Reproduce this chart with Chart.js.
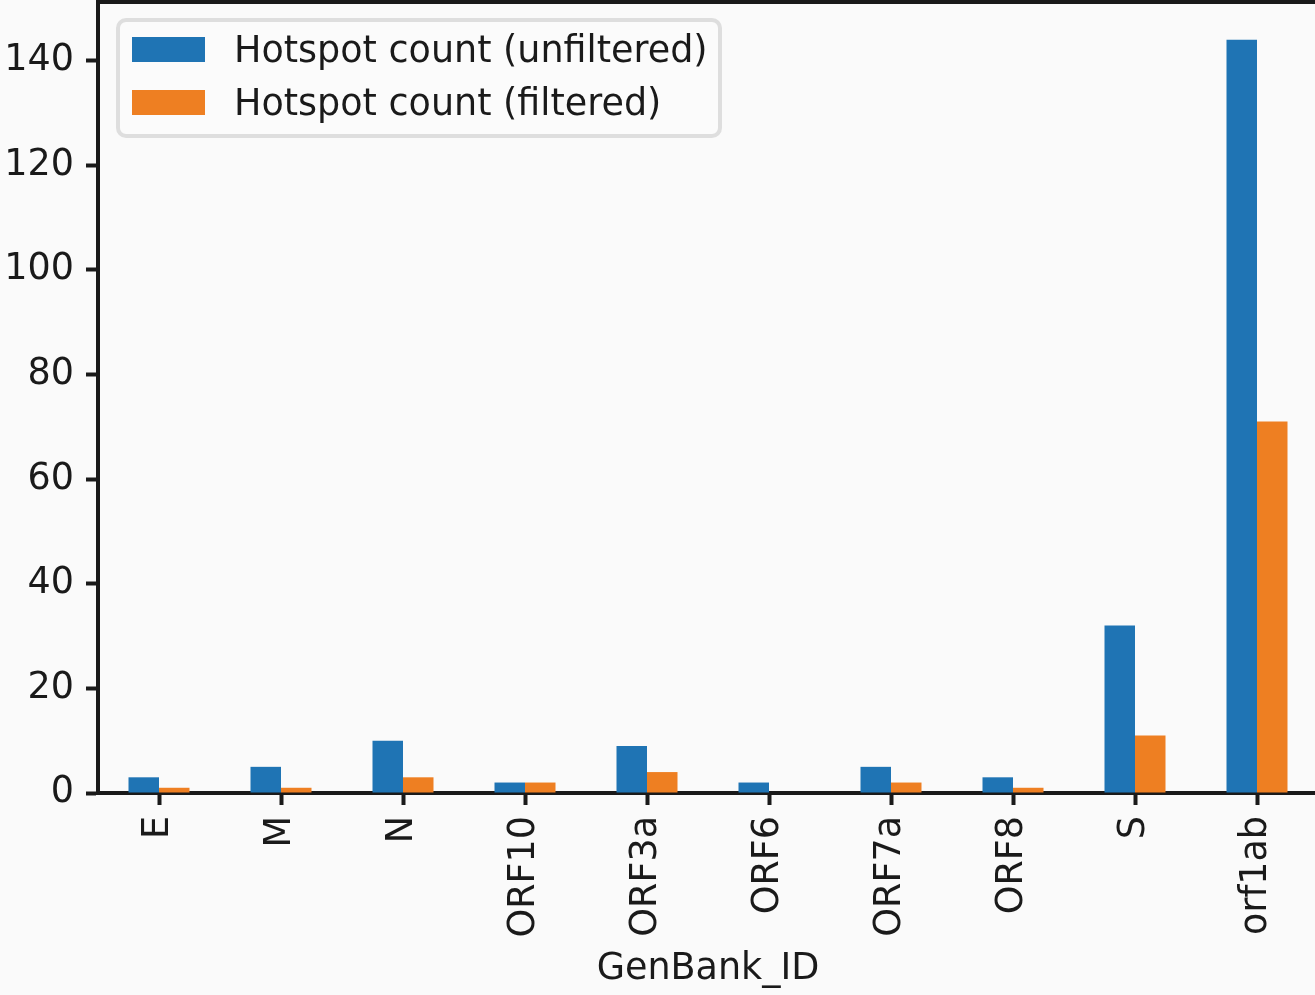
<!DOCTYPE html>
<html>
<head>
<meta charset="utf-8">
<script src="https://cdn.jsdelivr.net/npm/chart.js@4.4.0/dist/chart.umd.min.js"></script>
<style>
  html, body { margin: 0; padding: 0; background: #fafafa; overflow: hidden; }
  #wrap { position: relative; width: 1320px; height: 995px; }
  canvas { display: block; }
</style>
</head>
<body>
<div id="wrap"><canvas id="chart" width="1320" height="995"></canvas></div>
<script>
// Hotspot counts per gene
const genes = ['E', 'M', 'N', 'ORF10', 'ORF3a', 'ORF6', 'ORF7a', 'ORF8', 'S', 'orf1ab'];
const unfiltered = [3, 5, 10, 2, 9, 2, 5, 3, 32, 144];
const filtered = [1, 1, 3, 2, 4, 0, 2, 1, 11, 71];
const yTicks = [0, 20, 40, 60, 80, 100, 120, 140];
const yMax = 151.2;

const INK = '#1a1a1a';
const FONT = "'DejaVu Sans', sans-serif";
const FSIZE = 36.5;

// page background behind the plot
const background = {
  id: 'background',
  beforeDraw(chart) {
    const ctx = chart.ctx;
    ctx.save();
    ctx.fillStyle = '#fafafa';
    ctx.fillRect(0, 0, chart.width, chart.height);
    ctx.restore();
  }
};

// top frame line of the axes box
const topSpine = {
  id: 'topSpine',
  afterDraw(chart) {
    const { ctx, chartArea } = chart;
    ctx.save();
    ctx.strokeStyle = INK;
    ctx.lineWidth = 4;
    ctx.beginPath();
    ctx.moveTo(chartArea.left - 2, chartArea.top);
    ctx.lineTo(chartArea.right + 2, chartArea.top);
    ctx.stroke();
    ctx.restore();
  }
};

// framed legend in the upper-left corner of the plot
const frameLegend = {
  id: 'frameLegend',
  afterDraw(chart) {
    const { ctx, chartArea } = chart;
    const x0 = chartArea.left + 20, y0 = chartArea.top + 18;
    ctx.save();
    ctx.beginPath();
    ctx.roundRect(x0, y0, 602, 116, 8);
    ctx.fillStyle = 'rgba(250,250,250,0.85)';
    ctx.fill();
    ctx.lineWidth = 4;
    ctx.strokeStyle = '#dedede';
    ctx.stroke();
    ctx.font = FSIZE + 'px ' + FONT;
    ctx.textBaseline = 'alphabetic';
    ctx.textAlign = 'left';
    chart.data.datasets.forEach((ds, i) => {
      const y = y0 + 17 + i * 53;
      ctx.fillStyle = ds.backgroundColor;
      ctx.fillRect(x0 + 14, y, 73, 25);
      ctx.fillStyle = INK;
      ctx.fillText(ds.label, x0 + 116, y + 25);
    });
    ctx.restore();
  }
};

new Chart(document.getElementById('chart'), {
  type: 'bar',
  data: {
    labels: genes,
    datasets: [
      { label: 'Hotspot count (unfiltered)', data: unfiltered, backgroundColor: '#1f74b4' },
      { label: 'Hotspot count (filtered)', data: filtered, backgroundColor: '#ee7f22' }
    ]
  },
  options: {
    responsive: false,
    animation: false,
    devicePixelRatio: 1,
    layout: { padding: { top: 2, right: 2, left: 0, bottom: 0 } },
    datasets: { bar: { categoryPercentage: 0.5, barPercentage: 1.0, borderWidth: 0 } },
    plugins: {
      legend: { display: false },
      tooltip: { enabled: false }
    },
    scales: {
      x: {
        offset: true,
        grid: {
          display: true, drawOnChartArea: false, drawTicks: true, offset: false,
          tickLength: 12, tickWidth: 4, tickColor: INK
        },
        border: { display: true, width: 4, color: INK },
        ticks: {
          color: INK, font: { family: FONT, size: FSIZE },
          minRotation: 90, maxRotation: 90, padding: 11, autoSkip: false
        },
        title: {
          display: true, text: 'GenBank_ID', color: INK,
          font: { family: FONT, size: FSIZE }, padding: { top: 0, bottom: 4 }
        },
        afterFit(scale) {
          scale.height = 202;
          scale.paddingLeft = 0; scale.paddingRight = 0;
        }
      },
      y: {
        min: 0,
        max: yMax,
        grid: {
          display: true, drawOnChartArea: false, drawTicks: true,
          tickLength: 12, tickWidth: 4, tickColor: INK
        },
        border: { display: true, width: 4, color: INK },
        ticks: { color: INK, font: { family: FONT, size: FSIZE }, padding: 12 },
        afterBuildTicks(scale) {
          scale.ticks = yTicks.map(v => ({ value: v }));
        },
        afterFit(scale) {
          scale.width = 98;
          scale.paddingTop = 0; scale.paddingBottom = 0;
        }
      }
    }
  },
  plugins: [background, topSpine, frameLegend]
});
</script>
</body>
</html>
